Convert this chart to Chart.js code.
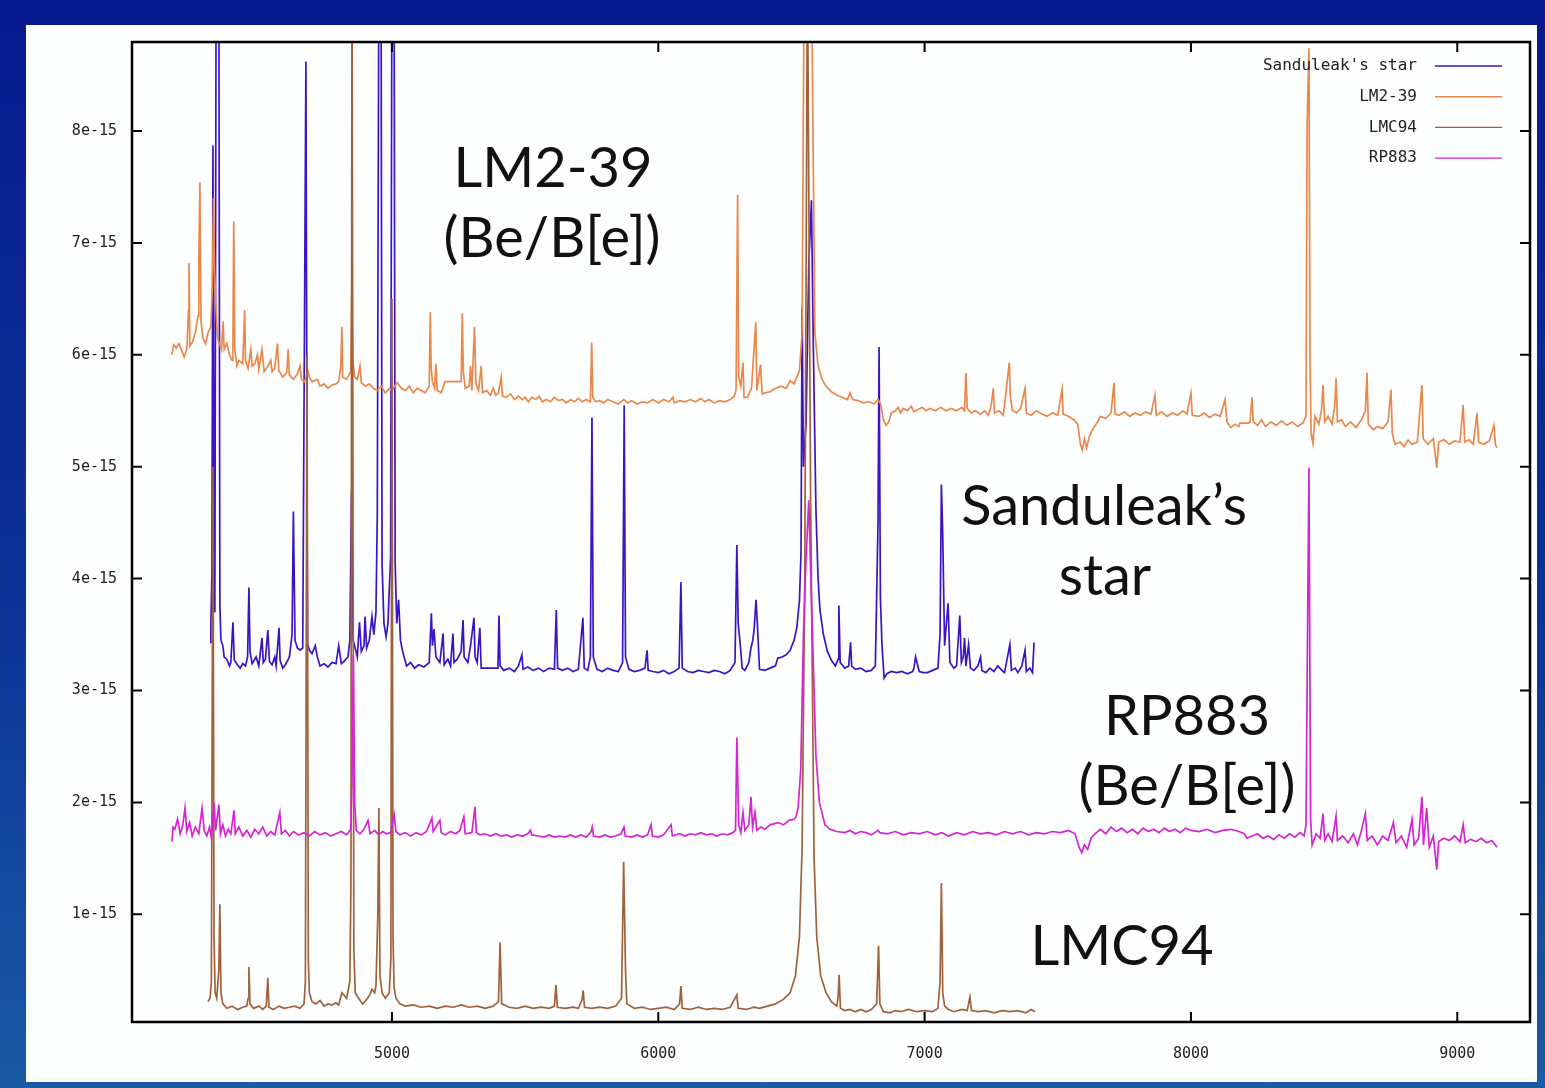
<!DOCTYPE html>
<html>
<head>
<meta charset="utf-8">
<script src="https://cdn.jsdelivr.net/npm/chart.js@4.4.1/dist/chart.umd.min.js"></script>
<style>
html, body { margin: 0; padding: 0; }
body { width: 1545px; height: 1088px; position: relative; overflow: hidden;
       background: linear-gradient(#071b8f, #0b3296 55%, #1a5ba5); }
#panel { position: absolute; left: 26px; top: 25px; width: 1511px; height: 1057px; background: #fdfefe; }
#wrap { position: absolute; left: 0; top: 0; width: 1545px; height: 1088px; }
</style>
</head>
<body>
<div id="panel"></div>
<div id="wrap"><canvas id="spectra" width="1545" height="1088"></canvas></div>
<script>
// flux values are in units of 1e-15, wavelengths in Angstrom
const FLUX_UNIT = 1e-15;
const xTicks = [5000, 6000, 7000, 8000, 9000];
const yTicks = [1, 2, 3, 4, 5, 6, 7, 8];
const seriesNames = ["Sanduleak's star", 'LM2-39', 'LMC94', 'RP883'];
const seriesColors = ['#3c14c4', '#ea884c', '#a0623c', '#d424d4'];

// Sanduleak's star
const sandWave = [4317,4320,4324,4328,4332,4335,4340,4350,4354,4358,4365,4370,4380,4390,4395,4403,4408,4420,4430,4440,4450,4458,4463,4467,4475,4490,4500,4512,4517,4525,4534,4540,4550,4560,4565,4576,4580,4590,4600,4615,4625,4630,4636,4645,4655,4665,4677,4683,4690,4700,4712,4720,4730,4745,4760,4775,4790,4800,4810,4820,4835,4842,4848,4854,4862,4870,4878,4885,4895,4899,4905,4915,4925,4932,4940,4945,4951,4959,4963,4970,4978,4985,4995,5000,5008,5012,5018,5025,5032,5040,5055,5070,5085,5100,5120,5140,5148,5152,5158,5165,5180,5192,5196,5210,5220,5229,5233,5245,5260,5267,5271,5285,5295,5308,5312,5320,5330,5335,5398,5402,5406,5420,5440,5460,5475,5488,5492,5510,5530,5550,5570,5590,5610,5617,5622,5640,5660,5680,5700,5717,5722,5735,5745,5751,5756,5770,5790,5810,5830,5850,5866,5872,5877,5890,5910,5930,5950,5958,5962,5980,6000,6020,6040,6060,6078,6085,6090,6110,6130,6150,6170,6190,6210,6230,6250,6270,6288,6295,6300,6307,6315,6325,6340,6348,6355,6360,6367,6372,6380,6400,6420,6440,6449,6465,6480,6495,6510,6520,6530,6536,6540,6545,6555,6565,6575,6582,6592,6600,6607,6620,6635,6650,6665,6675,6678,6683,6700,6715,6722,6726,6740,6760,6780,6800,6815,6825,6829,6834,6840,6848,6858,6875,6895,6915,6935,6955,6960,6966,6980,6995,7010,7030,7050,7058,7063,7068,7075,7088,7095,7110,7120,7132,7138,7145,7150,7155,7165,7172,7185,7200,7210,7215,7230,7245,7260,7275,7290,7300,7320,7326,7340,7350,7365,7377,7382,7395,7405,7411];
const sandFlux = [3.43,3.55,4.05,7.87,4.00,3.70,9.5,9.5,3.75,3.45,3.40,3.30,3.28,3.22,3.25,3.61,3.27,3.23,3.20,3.24,3.22,3.30,3.92,3.35,3.24,3.30,3.22,3.47,3.25,3.28,3.54,3.26,3.23,3.30,3.22,3.56,3.27,3.20,3.23,3.30,3.50,4.60,3.45,3.38,3.36,3.38,8.62,3.42,3.36,3.33,3.40,3.30,3.22,3.24,3.21,3.25,3.24,3.40,3.24,3.26,3.30,3.45,4.77,3.45,3.38,3.30,3.61,3.35,3.40,3.66,3.38,3.45,3.66,3.50,3.70,4.57,9.5,9.5,4.12,3.60,3.48,3.60,4.20,9.5,9.5,4.14,3.60,3.81,3.45,3.35,3.22,3.25,3.20,3.23,3.21,3.25,3.69,3.40,3.55,3.30,3.25,3.51,3.23,3.28,3.22,3.51,3.25,3.28,3.35,3.63,3.30,3.25,3.40,3.65,3.30,3.25,3.56,3.20,3.20,3.67,3.22,3.18,3.20,3.17,3.22,3.32,3.19,3.21,3.18,3.20,3.17,3.20,3.19,3.72,3.20,3.18,3.20,3.17,3.19,3.65,3.20,3.18,3.30,5.44,3.30,3.19,3.17,3.20,3.18,3.17,3.25,5.55,3.30,3.19,3.17,3.18,3.20,3.36,3.18,3.17,3.16,3.18,3.15,3.17,3.20,3.97,3.20,3.17,3.16,3.18,3.17,3.16,3.18,3.17,3.15,3.18,3.25,4.30,3.60,3.43,3.20,3.18,3.25,3.38,3.45,3.55,3.81,3.60,3.19,3.18,3.20,3.22,3.29,3.30,3.32,3.36,3.45,3.56,3.80,4.24,6.43,5.00,5.40,6.80,7.38,6.10,4.61,4.00,3.72,3.50,3.35,3.27,3.22,3.28,3.76,3.25,3.20,3.22,3.43,3.22,3.19,3.20,3.17,3.18,3.22,4.50,6.07,3.83,3.40,3.11,3.15,3.17,3.16,3.17,3.15,3.17,3.20,3.30,3.17,3.16,3.16,3.18,3.20,3.50,4.84,4.39,3.40,3.78,3.25,3.20,3.22,3.67,3.25,3.30,3.47,3.22,3.41,3.20,3.18,3.22,3.30,3.18,3.16,3.20,3.17,3.22,3.18,3.16,3.41,3.18,3.20,3.16,3.22,3.36,3.17,3.20,3.16,3.43];

// LM2-39
const lm239Wave = [4174,4180,4190,4200,4212,4220,4230,4236,4238,4241,4252,4262,4272,4275,4279,4283,4290,4300,4310,4320,4326,4330,4334,4338,4345,4352,4360,4366,4370,4380,4390,4400,4403,4406,4410,4418,4425,4440,4447,4450,4460,4470,4475,4485,4495,4500,4512,4520,4535,4545,4550,4560,4570,4575,4590,4605,4610,4615,4630,4645,4655,4660,4672,4685,4690,4700,4720,4730,4745,4760,4775,4790,4800,4808,4812,4815,4830,4845,4849,4853,4860,4870,4880,4885,4900,4915,4930,4945,4960,4975,4990,5000,5010,5020,5035,5050,5065,5080,5095,5110,5125,5140,5144,5147,5152,5160,5165,5170,5185,5199,5260,5264,5268,5275,5290,5295,5300,5310,5315,5325,5335,5340,5355,5370,5380,5390,5400,5410,5415,5430,5445,5460,5475,5490,5500,5512,5525,5540,5552,5565,5580,5595,5610,5625,5640,5655,5670,5685,5700,5715,5730,5745,5750,5754,5765,5780,5795,5810,5830,5850,5870,5885,5900,5920,5940,5960,5980,6000,6020,6040,6055,6060,6080,6100,6120,6140,6160,6175,6190,6210,6230,6250,6270,6285,6292,6298,6302,6310,6318,6322,6335,6350,6366,6370,6384,6390,6400,6420,6440,6460,6480,6495,6510,6520,6530,6540,6548,6575,6588,6600,6615,6630,6650,6670,6690,6710,6720,6730,6750,6770,6790,6810,6825,6835,6845,6855,6865,6875,6890,6900,6910,6920,6935,6950,6960,6975,6990,7005,7020,7040,7060,7080,7100,7120,7140,7150,7155,7160,7175,7190,7210,7225,7240,7250,7258,7262,7280,7295,7300,7318,7322,7330,7345,7360,7377,7382,7400,7420,7440,7460,7480,7500,7516,7520,7540,7560,7575,7585,7592,7600,7608,7620,7635,7650,7660,7680,7700,7711,7715,7730,7750,7770,7790,7810,7830,7850,7865,7870,7890,7910,7930,7950,7970,7985,8000,8005,8030,8050,8070,8090,8110,8128,8135,8150,8165,8180,8184,8215,8222,8229,8234,8250,8265,8280,8300,8320,8340,8360,8380,8400,8420,8432,8436,8443,8447,8451,8458,8466,8480,8490,8496,8502,8515,8530,8540,8545,8550,8565,8580,8600,8620,8640,8655,8661,8666,8685,8700,8720,8740,8751,8756,8766,8785,8800,8815,8830,8850,8867,8872,8890,8910,8923,8930,8950,8970,8990,9010,9022,9028,9045,9060,9074,9080,9100,9120,9138,9143,9149];
const lm239Flux = [6.00,6.09,6.06,6.10,6.03,5.98,6.05,6.40,6.82,6.08,6.12,6.20,6.35,6.87,7.54,6.30,6.15,6.10,6.20,6.25,6.60,7.40,6.75,6.50,6.15,6.10,6.05,6.30,6.05,6.10,6.00,5.95,6.10,7.19,6.05,5.90,5.95,5.92,6.40,5.95,5.88,6.05,5.90,5.92,6.00,5.87,6.05,5.85,5.90,5.95,5.85,5.88,6.10,5.86,5.80,5.84,6.05,5.82,5.78,5.83,5.90,5.78,5.76,5.85,5.80,5.76,5.78,5.72,5.74,5.70,5.73,5.74,5.76,5.90,6.25,5.80,5.78,5.85,6.55,5.95,5.80,5.78,5.90,5.75,5.72,5.74,5.70,5.68,5.72,5.66,5.70,5.68,5.72,5.75,5.70,5.68,5.72,5.66,5.70,5.68,5.66,5.72,6.38,5.90,5.76,5.70,5.92,5.68,5.66,5.76,5.76,6.37,5.85,5.70,5.72,5.90,5.68,6.25,5.75,5.68,5.90,5.66,5.68,5.64,5.70,5.64,5.66,5.80,5.63,5.62,5.65,5.60,5.63,5.60,5.62,5.58,5.62,5.60,5.63,5.58,5.60,5.58,5.62,5.59,5.60,5.57,5.60,5.58,5.61,5.58,5.60,5.58,6.11,5.62,5.58,5.59,5.57,5.60,5.58,5.56,5.60,5.57,5.59,5.56,5.58,5.57,5.60,5.57,5.60,5.58,5.62,5.57,5.59,5.58,5.60,5.58,5.61,5.58,5.60,5.57,5.59,5.58,5.60,5.63,5.68,7.43,5.80,5.72,5.93,5.62,5.62,5.70,6.29,5.68,5.91,5.65,5.66,5.67,5.70,5.72,5.70,5.77,5.74,5.80,5.86,6.20,9.5,9.5,6.20,5.90,5.78,5.72,5.67,5.64,5.62,5.60,5.66,5.60,5.59,5.57,5.58,5.56,5.60,5.56,5.42,5.37,5.40,5.48,5.50,5.53,5.48,5.52,5.50,5.54,5.49,5.51,5.53,5.50,5.52,5.50,5.53,5.50,5.52,5.50,5.53,5.50,5.84,5.52,5.48,5.50,5.47,5.50,5.46,5.55,5.70,5.48,5.50,5.46,5.55,5.93,5.62,5.50,5.48,5.52,5.70,5.48,5.46,5.50,5.47,5.45,5.48,5.46,5.69,5.47,5.45,5.42,5.38,5.20,5.15,5.25,5.17,5.28,5.35,5.40,5.45,5.43,5.48,5.75,5.47,5.46,5.49,5.45,5.48,5.46,5.49,5.47,5.64,5.46,5.49,5.45,5.48,5.46,5.50,5.47,5.66,5.46,5.45,5.48,5.44,5.47,5.45,5.60,5.40,5.35,5.38,5.36,5.39,5.39,5.40,5.62,5.40,5.37,5.42,5.36,5.40,5.37,5.41,5.37,5.40,5.36,5.39,5.45,8.04,8.74,5.95,5.30,5.21,5.45,5.38,5.50,5.73,5.40,5.45,5.38,5.55,5.79,5.40,5.42,5.36,5.40,5.35,5.42,5.50,5.84,5.38,5.33,5.36,5.34,5.40,5.69,5.30,5.20,5.22,5.18,5.24,5.20,5.22,5.73,5.25,5.20,5.25,4.99,5.22,5.24,5.20,5.23,5.22,5.55,5.22,5.24,5.20,5.48,5.22,5.20,5.23,5.37,5.20,5.17];

// LMC94
const lmc94Wave = [4309,4317,4322,4328,4332,4336,4342,4350,4354,4358,4365,4380,4400,4420,4440,4455,4460,4463,4467,4480,4500,4515,4528,4534,4538,4555,4575,4595,4615,4635,4655,4670,4675,4681,4686,4690,4700,4715,4730,4745,4760,4775,4790,4800,4812,4830,4842,4846,4850,4857,4862,4875,4890,4905,4917,4925,4935,4940,4947,4951,4955,4963,4975,4990,4996,5000,5004,5008,5015,5030,5050,5080,5110,5140,5170,5200,5230,5260,5290,5320,5350,5380,5400,5406,5412,5440,5470,5500,5530,5560,5590,5610,5616,5621,5650,5680,5700,5714,5718,5723,5750,5780,5810,5840,5862,5870,5877,5882,5910,5940,5970,6000,6030,6060,6080,6085,6090,6120,6150,6180,6210,6240,6270,6295,6300,6330,6360,6380,6410,6440,6470,6495,6515,6530,6540,6550,6560,6572,6585,6595,6610,6630,6650,6670,6675,6679,6684,6700,6720,6740,6760,6780,6800,6820,6827,6832,6845,6870,6890,6910,6940,6970,7000,7030,7050,7058,7063,7068,7075,7090,7110,7140,7160,7170,7176,7200,7230,7260,7290,7320,7350,7380,7400,7415];
const lmc94Flux = [0.22,0.25,0.40,5.00,0.80,0.30,0.25,0.50,1.09,0.30,0.20,0.16,0.18,0.15,0.17,0.18,0.25,0.53,0.20,0.16,0.18,0.15,0.18,0.43,0.17,0.15,0.18,0.16,0.17,0.18,0.16,0.20,0.40,6.00,0.60,0.30,0.22,0.20,0.23,0.18,0.20,0.19,0.21,0.19,0.30,0.25,0.40,1.26,9.5,0.70,0.30,0.25,0.20,0.24,0.28,0.33,0.30,0.36,1.00,1.95,0.45,0.30,0.25,0.30,0.60,6.50,0.80,0.35,0.25,0.20,0.18,0.19,0.17,0.18,0.16,0.18,0.17,0.19,0.17,0.18,0.16,0.18,0.22,0.75,0.20,0.17,0.16,0.18,0.16,0.17,0.16,0.18,0.37,0.17,0.16,0.17,0.16,0.24,0.32,0.17,0.16,0.17,0.16,0.18,0.25,1.47,0.50,0.20,0.16,0.17,0.15,0.16,0.17,0.15,0.20,0.36,0.16,0.15,0.17,0.15,0.16,0.15,0.17,0.28,0.16,0.15,0.17,0.16,0.18,0.20,0.24,0.30,0.45,0.80,1.60,4.00,9.5,4.70,1.50,0.80,0.45,0.30,0.22,0.18,0.25,0.46,0.16,0.14,0.15,0.13,0.15,0.13,0.15,0.20,0.72,0.20,0.13,0.12,0.14,0.13,0.15,0.13,0.14,0.13,0.16,0.40,1.28,0.30,0.18,0.15,0.13,0.15,0.14,0.26,0.14,0.13,0.14,0.12,0.14,0.13,0.14,0.12,0.15,0.13];

// RP883
const rp883Wave = [4174,4178,4185,4195,4205,4215,4223,4230,4240,4250,4262,4275,4287,4295,4305,4315,4322,4332,4338,4350,4356,4365,4375,4385,4395,4407,4412,4425,4440,4455,4470,4485,4500,4515,4530,4545,4560,4579,4585,4600,4615,4630,4650,4670,4690,4710,4730,4750,4770,4790,4810,4830,4845,4850,4855,4860,4866,4880,4895,4910,4918,4935,4950,4965,4980,4995,5008,5015,5030,5050,5070,5090,5110,5130,5150,5155,5180,5185,5200,5220,5240,5255,5270,5275,5300,5312,5317,5330,5350,5370,5390,5410,5430,5450,5470,5490,5510,5520,5525,5550,5570,5590,5610,5630,5650,5670,5690,5710,5730,5748,5752,5757,5780,5800,5820,5840,5860,5871,5876,5900,5920,5940,5960,5973,5978,6000,6020,6048,6053,6080,6100,6120,6140,6160,6180,6200,6220,6240,6260,6280,6290,6295,6302,6310,6318,6325,6340,6348,6354,6363,6370,6385,6400,6420,6449,6470,6491,6510,6517,6525,6535,6545,6555,6565,6575,6585,6592,6605,6626,6645,6670,6700,6720,6740,6760,6780,6800,6825,6832,6860,6890,6920,6950,6980,7010,7040,7065,7090,7120,7150,7180,7210,7240,7270,7300,7330,7360,7390,7420,7450,7480,7510,7540,7565,7580,7590,7600,7612,7625,7640,7660,7680,7700,7720,7740,7760,7780,7800,7820,7840,7860,7880,7900,7920,7940,7960,7980,8000,8030,8060,8090,8120,8150,8180,8200,8210,8230,8250,8270,8290,8310,8330,8350,8370,8390,8410,8425,8432,8438,8443,8449,8455,8470,8485,8496,8502,8515,8530,8545,8550,8570,8590,8610,8625,8640,8655,8662,8680,8700,8720,8740,8760,8770,8790,8810,8830,8838,8855,8867,8873,8885,8895,8910,8923,8930,8950,8970,8990,9010,9022,9030,9050,9070,9090,9110,9130,9149];
const rp883Flux = [1.65,1.78,1.76,1.85,1.72,1.80,1.95,1.74,1.82,1.70,1.78,1.72,1.95,1.75,1.70,1.78,1.68,2.00,1.75,1.98,1.72,1.80,1.70,1.76,1.72,1.93,1.72,1.78,1.70,1.75,1.69,1.76,1.72,1.78,1.70,1.74,1.71,1.91,1.72,1.75,1.70,1.74,1.71,1.73,1.70,1.74,1.71,1.73,1.70,1.72,1.74,1.71,1.76,2.20,3.32,2.00,1.75,1.72,1.76,1.84,1.72,1.75,1.71,1.74,1.72,1.73,1.89,1.74,1.71,1.73,1.70,1.73,1.71,1.74,1.86,1.74,1.84,1.73,1.71,1.74,1.72,1.75,1.87,1.72,1.73,1.96,1.73,1.71,1.72,1.70,1.72,1.70,1.71,1.69,1.71,1.70,1.72,1.75,1.71,1.70,1.69,1.71,1.69,1.70,1.69,1.71,1.69,1.71,1.69,1.74,1.78,1.70,1.69,1.71,1.69,1.70,1.72,1.78,1.70,1.69,1.71,1.69,1.71,1.80,1.70,1.69,1.71,1.80,1.70,1.72,1.70,1.72,1.71,1.73,1.71,1.72,1.70,1.72,1.71,1.73,1.75,2.58,1.80,1.73,1.91,1.75,1.80,2.05,1.78,1.91,1.75,1.78,1.76,1.80,1.82,1.80,1.84,1.85,1.87,1.95,2.30,3.50,4.20,4.70,3.80,3.00,2.41,2.00,1.80,1.76,1.74,1.73,1.75,1.72,1.74,1.73,1.71,1.75,1.73,1.72,1.74,1.71,1.73,1.72,1.74,1.71,1.73,1.70,1.73,1.71,1.74,1.72,1.73,1.71,1.74,1.72,1.74,1.71,1.73,1.72,1.74,1.73,1.75,1.72,1.60,1.55,1.62,1.58,1.68,1.72,1.76,1.72,1.78,1.74,1.77,1.73,1.76,1.72,1.77,1.74,1.76,1.73,1.77,1.74,1.76,1.73,1.77,1.75,1.74,1.76,1.73,1.75,1.76,1.74,1.72,1.68,1.70,1.72,1.68,1.70,1.67,1.71,1.68,1.72,1.69,1.73,1.70,1.80,3.60,4.99,1.85,1.62,1.72,1.68,1.90,1.66,1.72,1.65,1.88,1.66,1.70,1.64,1.72,1.62,1.75,1.90,1.66,1.70,1.62,1.70,1.66,1.82,1.64,1.70,1.60,1.85,1.62,1.68,2.05,1.62,1.95,1.60,1.70,1.40,1.65,1.68,1.66,1.70,1.65,1.80,1.64,1.67,1.65,1.68,1.64,1.66,1.60];

// text written on the plot, placed in data coordinates
const noteText = ['LM2-39', '(Be/B[e])', "Sanduleak\u2019s", 'star', 'RP883', '(Be/B[e])', 'LMC94'];
const noteWave = [5605, 5601, 7674, 7677, 7985, 7985, 7741];
const noteFlux = [7.50, 6.87, 4.48, 3.85, 2.60, 1.98, 0.55];

const toPoints = (wave, flux) => wave.map((w, i) => ({ x: w, y: flux[i] * FLUX_UNIT }));

const makeSet = (i, wave, flux, order) => ({
    label: seriesNames[i],
    data: toPoints(wave, flux),
    showLine: true,
    borderColor: seriesColors[i],
    backgroundColor: seriesColors[i],
    borderWidth: 1.7,
    pointRadius: 0,
    tension: 0,
    order: order
});

// frame with inward mirrored ticks, key and labels, the way gnuplot draws them
const gnuplotLook = {
    id: 'gnuplotLook',
    afterDatasetsDraw(chart) {
        const ctx = chart.ctx;
        const a = chart.chartArea;
        const xs = chart.scales.x, ys = chart.scales.y;
        ctx.save();
        ctx.strokeStyle = '#000';
        ctx.lineWidth = 2.5;
        ctx.strokeRect(a.left, a.top, a.right - a.left, a.bottom - a.top);
        ctx.lineWidth = 2;
        ctx.beginPath();
        xTicks.forEach(v => {
            const px = xs.getPixelForValue(v);
            ctx.moveTo(px, a.bottom); ctx.lineTo(px, a.bottom - 10);
            ctx.moveTo(px, a.top); ctx.lineTo(px, a.top + 10);
        });
        yTicks.forEach(v => {
            const py = ys.getPixelForValue(v * FLUX_UNIT);
            ctx.moveTo(a.left, py); ctx.lineTo(a.left + 10, py);
            ctx.moveTo(a.right, py); ctx.lineTo(a.right - 10, py);
        });
        ctx.stroke();

        // key
        ctx.font = '16px "DejaVu Sans Mono"';
        ctx.textAlign = 'right';
        ctx.textBaseline = 'middle';
        chart.data.datasets.forEach((ds, i) => {
            const y = a.top + 24 + i * 30.7;
            ctx.fillStyle = '#222';
            ctx.fillText(ds.label, a.right - 113, y);
            ctx.strokeStyle = ds.borderColor;
            ctx.lineWidth = 1.4;
            ctx.beginPath();
            ctx.moveTo(a.right - 95, y);
            ctx.lineTo(a.right - 28, y);
            ctx.stroke();
        });

        // big labels
        ctx.font = '56px Lato';
        ctx.textAlign = 'center';
        ctx.textBaseline = 'alphabetic';
        ctx.fillStyle = '#111';
        noteText.forEach((t, i) => {
            ctx.fillText(t, xs.getPixelForValue(noteWave[i]), ys.getPixelForValue(noteFlux[i] * FLUX_UNIT));
        });
        ctx.restore();
    }
};

new Chart(document.getElementById('spectra'), {
    type: 'scatter',
    data: {
        datasets: [
            makeSet(0, sandWave, sandFlux, 3),
            makeSet(1, lm239Wave, lm239Flux, 2),
            makeSet(2, lmc94Wave, lmc94Flux, 1),
            makeSet(3, rp883Wave, rp883Flux, 0)
        ]
    },
    options: {
        responsive: false,
        animation: false,
        layout: { padding: { left: 32, top: 42, right: 15, bottom: 16 } },
        plugins: { legend: { display: false }, tooltip: { enabled: false } },
        scales: {
            x: {
                type: 'linear',
                min: 4024,
                max: 9273,
                grid: { display: false },
                border: { display: false },
                afterBuildTicks: s => { s.ticks = xTicks.map(v => ({ value: v })); },
                afterFit: s => { s.height = 50; },
                ticks: {
                    color: '#222',
                    font: { family: '"DejaVu Sans Mono"', size: 15 },
                    padding: 15,
                    maxRotation: 0,
                    callback: v => String(v)
                }
            },
            y: {
                type: 'linear',
                min: 0.038 * FLUX_UNIT,
                max: 8.795 * FLUX_UNIT,
                grid: { display: false },
                border: { display: false },
                afterBuildTicks: s => { s.ticks = yTicks.map(v => ({ value: v * FLUX_UNIT })); },
                afterFit: s => { s.width = 100; },
                ticks: {
                    color: '#222',
                    font: { family: '"DejaVu Sans Mono"', size: 15 },
                    padding: 7,
                    callback: v => Math.round(v / FLUX_UNIT) + 'e-15'
                }
            }
        }
    },
    plugins: [gnuplotLook]
});
</script>
</body>
</html>
